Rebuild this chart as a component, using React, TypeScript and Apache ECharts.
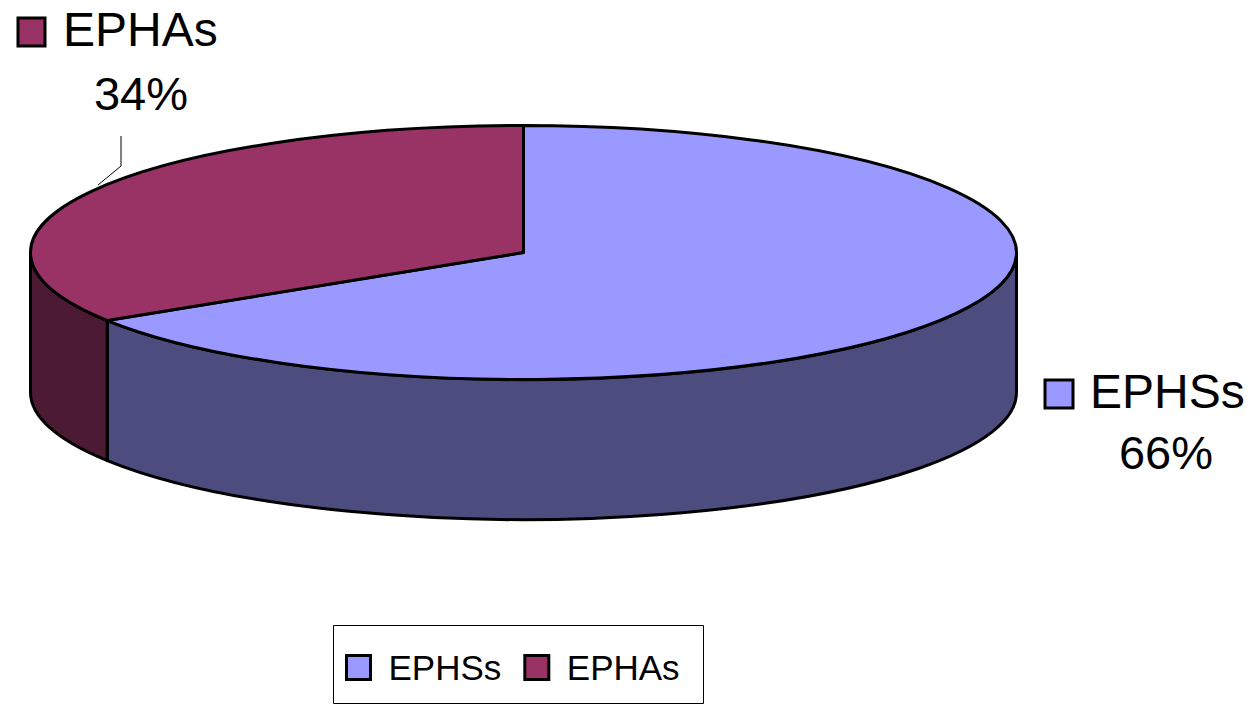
import React, { useEffect, useRef } from "react";
import * as echarts from "echarts";

const categories = ["EPHSs", "EPHAs"];
const values = [66, 34];
const topColors = ["#9999FF", "#993366"];
const sideColors = ["#4C4C7F", "#4D1A33"];

const CX = 523.5;
const CY = 252.5;
const RX = 493;
const RY = 127;
const DEPTH = 140;

const FONT = "'Liberation Sans', Arial, sans-serif";

const labelLayout: Record<string, { box: [number, number, number, number]; nameX: number; nameY: number; pctX: number; pctY: number; leader?: number[][] }> = {
  EPHSs: { box: [1045, 380, 28, 28], nameX: 1090, nameY: 391, pctX: 1166, pctY: 452 },
  EPHAs: { box: [18, 18, 27, 28], nameX: 63, nameY: 29, pctX: 141, pctY: 93, leader: [[121, 136], [121, 166], [98, 185]] },
};

function pt(deg: number, dy = 0): [number, number] {
  const r = (deg * Math.PI) / 180;
  return [CX + RX * Math.cos(r), CY + RY * Math.sin(r) + dy];
}

function f(p: [number, number]) {
  return p[0].toFixed(2) + " " + p[1].toFixed(2);
}

function topPath(a1: number, a2: number) {
  const p1 = pt(a1);
  const p2 = pt(a2);
  const large = a2 - a1 > 180 ? 1 : 0;
  return `M ${CX} ${CY} L ${f(p1)} A ${RX} ${RY} 0 ${large} 1 ${f(p2)} Z`;
}

function sidePath(a1: number, a2: number) {
  const p1 = pt(a1);
  const p2 = pt(a2);
  const q2 = pt(a2, DEPTH);
  const q1 = pt(a1, DEPTH);
  const large = a2 - a1 > 180 ? 1 : 0;
  return `M ${f(p1)} A ${RX} ${RY} 0 ${large} 1 ${f(p2)} L ${f(q2)} A ${RX} ${RY} 0 ${large} 0 ${f(q1)} Z`;
}

export default function App() {
  const ref = useRef<HTMLDivElement>(null);
  useEffect(() => {
    document.body.style.margin = "0";
    if (!ref.current) return;
    const chart = echarts.init(ref.current, undefined, { renderer: "svg" });
    const total = values.reduce((s, v) => s + v, 0);

    const series = categories.map((name, idx) => {
      const before = values.slice(0, idx).reduce((s, v) => s + v, 0);
      return {
        type: "custom",
        name,
        coordinateSystem: "none",
        itemStyle: { color: topColors[idx] },
        data: [{ name, value: values[idx] }],
        renderItem: (params: any, api: any) => {
          const v = api.value(0);
          const a1 = -90 + (360 * before) / total;
          const a2 = a1 + (360 * v) / total;
          const children: any[] = [];
          const s1 = Math.max(a1, 0);
          const s2 = Math.min(a2, 180);
          if (s2 > s1) {
            children.push({
              type: "path",
              shape: { pathData: sidePath(s1, s2) },
              style: { fill: sideColors[idx], stroke: "#000", lineWidth: 3, lineJoin: "round" },
            });
          }
          children.push({
            type: "path",
            shape: { pathData: topPath(a1, a2) },
            style: { fill: topColors[idx], stroke: "#000", lineWidth: 3, lineJoin: "round" },
          });
          const L = labelLayout[name];
          const pct = Math.round((v / total) * 100) + "%";
          if (L.leader) {
            children.push({
              type: "polyline",
              shape: { points: L.leader },
              style: { stroke: "#000", lineWidth: 1, fill: null },
            });
          }
          children.push({
            type: "rect",
            shape: { x: L.box[0], y: L.box[1], width: L.box[2], height: L.box[3] },
            style: { fill: topColors[idx], stroke: "#000", lineWidth: 3 },
          });
          children.push({
            type: "text",
            style: { text: name, x: L.nameX, y: L.nameY, fill: "#000", fontSize: 48, fontFamily: FONT, align: "left", verticalAlign: "middle" },
          });
          children.push({
            type: "text",
            style: { text: pct, x: L.pctX, y: L.pctY, fill: "#000", fontSize: 47, fontFamily: FONT, align: "center", verticalAlign: "middle" },
          });
          return { type: "group", children };
        },
      };
    });

    chart.setOption({
      animation: false,
      backgroundColor: "#fff",
      graphic: [
        {
          type: "rect",
          shape: { x: 333.5, y: 625.5, width: 370, height: 78 },
          style: { fill: "#fff", stroke: "#000", lineWidth: 1 },
          z: -1,
        },
      ],
      legend: {
        data: categories,
        left: 345,
        top: 650,
        padding: 0,
        itemWidth: 24,
        itemHeight: 24,
        itemGap: 22,
        icon: "rect",
        itemStyle: { borderColor: "#000", borderWidth: 3 },
        textStyle: {
          fontSize: 35,
          fontFamily: FONT,
          color: "#000",
          padding: [0, 0, 6, 13],
        },
        selectedMode: false,
      },
      series,
    } as any);
    return () => chart.dispose();
  }, []);
  return <div ref={ref} style={{ width: 1259, height: 707 }} />;
}
